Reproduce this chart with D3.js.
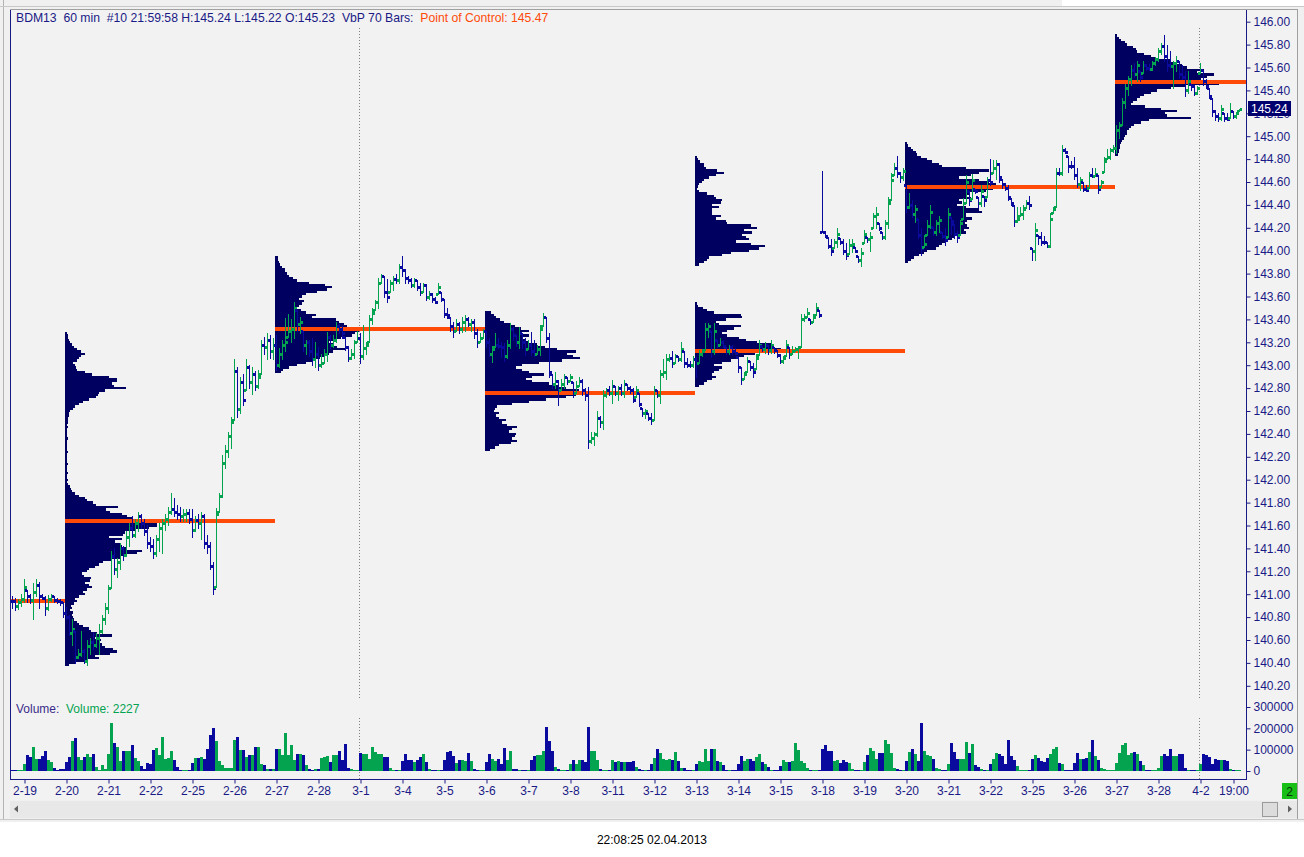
<!DOCTYPE html>
<html>
<head>
<meta charset="utf-8">
<script src="https://cdn.jsdelivr.net/npm/d3@7"></script>
<style>
  body { margin: 0; background: #fff; }
  svg text { font-family: "Liberation Sans", Arial, sans-serif; }
</style>
</head>
<body>
<svg id="chart" width="1304" height="857"></svg>
<script>
// 60 min bars, 4 bars of 2-18 then 14 bars per session (2-19 .. 4-2)
const highs = [
  140.98,140.97,140.96,141.00,
  141.13,141.04,141.00,141.10,141.13,141.11,141.00,140.98,140.99,141.00,140.98,140.97,140.96,140.93, // 2-19
  140.89,140.82,140.78,140.68,140.52,140.68,140.52,140.60,140.62,140.67,140.66,140.74,140.82,140.92, // 2-20
  141.08,141.38,141.40,141.32,141.45,141.42,141.55,141.62,141.68,141.66,141.72,141.70,141.66,141.60, // 2-21
  141.50,141.48,141.52,141.62,141.66,141.70,141.76,141.88,141.84,141.78,141.76,141.74,141.74,141.74, // 2-22
  141.74,141.68,141.70,141.72,141.70,141.52,141.46,141.28,141.75,141.88,142.22,142.30,142.42,142.55, // 2-25
  143.05,142.98,142.90,142.92,143.05,143.00,142.98,142.95,142.96,143.22,143.25,143.28,143.26,143.24, // 2-26
  143.26,143.15,143.22,143.41,143.45,143.40,143.55,143.48,143.42,143.30,143.22,143.22,143.24,143.20, // 2-27
  143.16,143.10,143.14,143.29,143.26,143.26,143.38,143.36,143.34,143.25,143.17,143.14,143.22,143.30, // 2-28
  143.28,143.35,143.20,143.44,143.50,143.57,143.76,143.80,143.78,143.75,143.74,143.78,143.80,143.88, // 3-1
  143.95,143.84,143.78,143.76,143.76,143.74,143.72,143.72,143.71,143.65,143.63,143.60,143.72,143.64, // 3-4
  143.58,143.50,143.42,143.38,143.40,143.38,143.42,143.44,143.42,143.40,143.40,143.32,143.28,143.32, // 3-5
  143.30,143.24,143.17,143.28,143.24,143.20,143.19,143.22,143.37,143.33,143.26,143.33,143.28,143.24, // 3-6
  143.22,143.29,143.22,143.18,143.35,143.46,143.42,143.28,142.92,142.94,142.87,142.88,142.92,142.90, // 3-7
  142.92,142.85,142.86,142.90,142.88,142.80,142.81,142.42,142.42,142.60,142.56,142.78,142.80,142.82, // 3-8
  142.87,142.82,142.82,142.84,142.87,142.84,142.82,142.80,142.82,142.76,142.63,142.62,142.58,142.58, // 3-11
  142.82,142.78,142.96,143.05,143.10,143.10,143.12,143.10,143.08,143.20,143.12,143.06,143.04,143.08, // 3-12
  143.07,143.13,143.14,143.37,143.37,143.30,143.37,143.22,143.24,143.22,143.16,143.18,143.18,143.15, // 3-13
  143.07,142.98,142.94,143.07,143.04,143.02,143.10,143.22,143.17,143.20,143.18,143.22,143.16,143.13, // 3-14
  143.10,143.08,143.22,143.16,143.17,143.16,143.17,143.45,143.45,143.50,143.40,143.45,143.54,143.48, // 3-15
  144.70,144.17,144.12,144.10,144.10,144.20,144.11,144.10,144.07,144.10,144.10,144.03,143.95,144.02, // 3-18
  144.18,144.12,144.16,144.33,144.38,144.24,144.16,144.27,144.47,144.68,144.77,144.83,144.69,144.72, // 3-19
  144.57,144.50,144.44,144.40,144.28,144.20,144.14,144.27,144.40,144.21,144.27,144.30,144.16,144.20, // 3-20
  144.37,144.29,144.23,144.17,144.27,144.46,144.66,144.52,144.67,144.54,144.47,144.57,144.48,144.64, // 3-21
  144.80,144.79,144.79,144.77,144.63,144.59,144.57,144.46,144.40,144.38,144.38,144.40,144.44,144.48, // 3-22
  144.02,144.24,144.14,144.16,144.13,144.08,144.33,144.38,144.72,144.72,144.92,144.90,144.83,144.78, // 3-25
  144.82,144.72,144.64,144.60,144.57,144.69,144.72,144.72,144.66,144.62,144.82,144.89,144.90,144.92, // 3-26
  145.10,145.12,145.33,145.46,145.53,145.62,145.64,145.66,145.57,145.66,145.63,145.63,145.66,145.69, // 3-27
  145.77,145.81,145.88,145.80,145.74,145.66,145.70,145.66,145.62,145.57,145.57,145.46,145.45,145.44, // 3-28
  145.64,145.58,145.50,145.42,145.33,145.23,145.20,145.27,145.20,145.20,145.29,145.22,145.21,145.24  // 4-2
];
const lows = [
  140.88,140.86,140.87,140.90,
  140.93,140.93,140.92,140.78,140.98,140.88,140.96,140.82,140.86,140.94,140.93,140.92,140.91,140.80,
  140.78,140.64,140.56,140.40,140.44,140.46,140.40,140.38,140.48,140.52,140.54,140.48,140.66,140.74,
  140.84,141.05,141.18,141.15,141.22,141.30,141.33,141.42,141.50,141.50,141.55,141.58,141.52,141.40,
  141.38,141.32,141.33,141.38,141.36,141.56,141.60,141.70,141.68,141.66,141.64,141.64,141.64,141.62,
  141.50,141.55,141.58,141.48,141.40,141.36,141.22,141.00,141.06,141.72,141.85,142.10,142.20,142.28,
  142.52,142.55,142.58,142.65,142.78,142.80,142.75,142.78,142.80,142.92,143.10,143.05,143.06,143.05,
  142.96,142.98,143.05,143.12,143.25,143.20,143.24,143.30,143.28,143.12,143.10,143.08,143.00,142.98,
  142.96,142.98,143.02,143.04,143.15,143.16,143.20,143.28,143.24,143.13,143.04,143.05,143.06,143.20,
  143.02,143.05,143.10,143.20,143.36,143.48,143.50,143.72,143.60,143.55,143.64,143.66,143.72,143.72,
  143.78,143.72,143.72,143.68,143.68,143.66,143.61,143.64,143.57,143.58,143.55,143.54,143.62,143.56,
  143.42,143.41,143.30,143.25,143.30,143.28,143.29,143.30,143.34,143.30,143.24,143.16,143.20,143.24,
  143.16,143.08,143.03,143.16,143.15,143.07,143.04,143.06,143.15,143.22,143.17,143.15,143.15,143.09,
  143.14,143.09,143.08,143.10,143.09,143.34,143.20,142.90,142.80,142.80,142.65,142.78,142.80,142.84,
  142.86,142.72,142.76,142.82,142.74,142.70,142.28,142.32,142.30,142.38,142.46,142.44,142.72,142.74,
  142.67,142.74,142.70,142.74,142.72,142.78,142.76,142.68,142.72,142.64,142.56,142.54,142.52,142.49,
  142.52,142.72,142.67,142.90,142.88,143.04,142.98,143.02,143.04,143.04,142.98,142.98,142.98,142.98,
  142.90,143.02,143.08,143.13,143.25,143.07,143.10,143.16,143.18,143.16,143.10,143.10,143.10,143.10,
  142.94,142.84,142.88,142.94,142.96,142.90,142.97,143.09,143.12,143.11,143.10,143.11,143.11,143.07,
  143.02,143.02,143.08,143.06,143.10,143.12,143.06,143.16,143.39,143.42,143.36,143.38,143.44,143.42,
  144.16,144.12,144.02,143.96,144.02,144.03,144.06,143.97,143.93,143.97,143.99,143.99,143.90,143.87,
  144.07,144.08,144.00,144.20,144.20,144.18,144.10,144.10,144.20,144.44,144.66,144.64,144.60,144.62,
  144.34,144.37,144.29,144.25,144.11,143.96,144.03,144.14,144.20,144.14,144.14,144.16,144.11,144.05,
  144.12,144.15,144.11,144.08,144.14,144.28,144.42,144.40,144.45,144.50,144.38,144.39,144.39,144.47,
  144.57,144.68,144.63,144.60,144.55,144.53,144.44,144.40,144.22,144.25,144.30,144.28,144.37,144.36,
  143.92,143.92,144.06,144.05,144.06,144.03,144.03,144.33,144.38,144.66,144.66,144.85,144.69,144.72,
  144.63,144.56,144.53,144.52,144.52,144.55,144.64,144.65,144.50,144.56,144.69,144.80,144.80,144.86,
  144.85,144.98,145.10,145.25,145.36,145.45,145.52,145.48,145.48,145.55,145.58,145.58,145.58,145.62,
  145.66,145.72,145.66,145.57,145.60,145.42,145.57,145.51,145.50,145.35,145.38,145.40,145.36,145.37,
  145.55,145.45,145.42,145.33,145.18,145.14,145.13,145.14,145.13,145.14,145.16,145.16,145.16,145.22
];
const closes = [
  140.94,140.90,140.93,140.96,
  141.06,140.98,140.95,141.02,141.08,140.98,140.97,140.88,140.96,140.98,140.95,140.94,140.93,140.84,
  140.80,140.66,140.70,140.45,140.48,140.50,140.42,140.55,140.58,140.56,140.62,140.68,140.78,140.88,
  141.05,141.33,141.22,141.28,141.40,141.34,141.50,141.58,141.52,141.62,141.68,141.62,141.55,141.45,
  141.42,141.36,141.48,141.58,141.62,141.66,141.72,141.74,141.72,141.70,141.68,141.70,141.71,141.66,
  141.56,141.65,141.62,141.68,141.45,141.42,141.25,141.05,141.70,141.86,142.15,142.25,142.38,142.50,
  142.95,142.62,142.85,142.70,142.98,142.85,142.92,142.82,142.90,143.18,143.16,143.22,143.12,143.18,
  143.00,143.10,143.18,143.20,143.30,143.32,143.50,143.36,143.38,143.18,143.20,143.12,143.05,143.10,
  143.00,143.02,143.10,143.25,143.18,143.22,143.34,143.32,143.28,143.16,143.06,143.10,143.20,143.24,
  143.08,143.15,143.18,143.40,143.46,143.55,143.72,143.78,143.64,143.60,143.72,143.75,143.74,143.86,
  143.83,143.76,143.74,143.70,143.74,143.68,143.64,143.70,143.60,143.62,143.58,143.55,143.68,143.58,
  143.45,143.44,143.34,143.30,143.36,143.32,143.38,143.40,143.36,143.38,143.28,143.20,143.24,143.30,
  143.20,143.10,143.14,143.18,143.17,143.16,143.08,143.18,143.32,143.26,143.20,143.28,143.20,143.14,
  143.18,143.12,143.10,143.14,143.32,143.42,143.24,142.94,142.84,142.86,142.78,142.84,142.90,142.86,
  142.90,142.76,142.82,142.86,142.78,142.74,142.34,142.36,142.40,142.54,142.50,142.74,142.78,142.76,
  142.82,142.76,142.80,142.76,142.84,142.80,142.78,142.70,142.78,142.66,142.58,142.60,142.54,142.52,
  142.78,142.74,142.92,142.94,143.05,143.06,143.02,143.08,143.05,143.14,143.02,143.00,143.00,143.05,
  143.02,143.10,143.12,143.32,143.34,143.12,143.30,143.18,143.20,143.17,143.12,143.16,143.12,143.11,
  142.98,142.88,142.92,143.04,142.98,142.94,143.06,143.18,143.14,143.18,143.13,143.18,143.13,143.09,
  143.04,143.06,143.18,143.10,143.12,143.14,143.16,143.40,143.42,143.46,143.38,143.42,143.50,143.44,
  144.16,144.13,144.04,144.00,144.08,144.15,144.08,144.00,143.96,144.05,144.06,144.00,143.92,143.98,
  144.15,144.10,144.12,144.30,144.32,144.20,144.12,144.24,144.42,144.62,144.72,144.68,144.64,144.70,
  144.38,144.40,144.32,144.36,144.14,144.02,144.06,144.22,144.34,144.16,144.24,144.27,144.13,144.09,
  144.32,144.26,144.15,144.12,144.24,144.42,144.60,144.44,144.62,144.52,144.42,144.52,144.44,144.62,
  144.60,144.72,144.76,144.64,144.58,144.55,144.47,144.42,144.26,144.28,144.32,144.36,144.42,144.40,
  144.00,144.18,144.12,144.08,144.08,144.04,144.28,144.36,144.68,144.68,144.88,144.86,144.74,144.74,
  144.66,144.58,144.62,144.54,144.53,144.66,144.65,144.67,144.54,144.60,144.78,144.82,144.88,144.90,
  145.05,145.10,145.30,145.42,145.50,145.58,145.54,145.62,145.52,145.62,145.60,145.59,145.64,145.67,
  145.74,145.79,145.70,145.62,145.61,145.64,145.66,145.54,145.52,145.40,145.48,145.44,145.38,145.42,
  145.58,145.48,145.44,145.35,145.22,145.18,145.16,145.24,145.16,145.15,145.22,145.18,145.20,145.24
];
// volume per bar, thousands of contracts
const volumesK = [
  3,2,3,4,
  33,75,66,113,56,55,70,94,52,40,16,6,8,8,
  42,66,142,155,66,51,66,80,66,80,20,6,28,10,
  80,226,131,113,45,93,93,93,122,63,47,23,8,36,
  35,100,108,73,160,58,61,96,50,19,6,3,3,6,
  38,63,63,66,58,105,167,200,141,47,27,16,13,16,
  147,160,100,100,66,73,73,113,113,31,27,11,11,11,
  105,105,73,180,73,120,50,81,81,73,27,11,6,11,
  11,63,66,69,42,73,73,92,50,125,14,11,6,3,
  86,81,81,58,114,89,81,81,66,66,16,6,3,3,
  47,78,53,53,42,53,66,78,42,11,3,3,3,3,
  50,89,94,69,38,50,50,47,84,45,11,3,3,3,
  42,81,58,47,58,35,108,53,92,11,11,3,3,3,
  3,53,69,73,73,92,206,141,95,19,11,6,3,3,
  31,50,35,53,50,42,206,95,92,50,11,3,3,3,
  50,42,47,42,42,42,42,47,20,11,6,3,6,34,
  60,101,83,56,52,55,52,89,47,13,13,3,3,3,
  34,47,44,101,47,101,101,47,42,27,3,3,3,3,
  34,69,47,58,58,47,66,81,42,31,19,6,3,3,
  22,50,42,42,45,131,97,47,38,16,6,3,3,3,
  101,121,92,92,47,50,38,50,42,38,9,6,6,3,
  42,73,108,95,58,84,84,144,128,84,14,9,3,3,
  47,87,105,81,47,227,92,73,70,55,16,11,3,3,
  31,131,89,58,58,58,136,84,128,27,19,11,3,3,
  34,58,84,78,69,34,144,69,50,22,3,3,3,3,
  58,73,61,47,42,61,81,105,112,38,34,6,3,3,
  38,84,58,58,63,89,144,69,50,16,9,3,3,3,
  38,84,124,131,73,84,89,81,47,27,6,3,3,3,
  16,69,78,70,101,70,70,78,78,16,6,3,3,3,
  34,78,73,66,31,58,53,50,50,47,11,6,3,2.227
];

// volume-by-price profiles, 70 bars each, rows of 0.02 from the base price (k contracts)
const profileStart = [18, 88, 158, 228, 298, 368];
const profileBase = [140.38, 142.94, 142.26, 142.82, 143.90, 144.84];
const profile1 = [4,10,22,34,30,45,52,48,40,37,35,36,30,47,32,26,24,18,14,12,9,8,7,8,5,7,6,9,12,10,
  14,20,18,22,27,24,20,25,26,19,17,22,24,30,34,38,47,55,60,72,77,62,57,55,50,57,44,58,60,70,
  84,92,92,100,67,62,57,45,41,53,31,28,22,20,14,10,7,6,5,3,
  2,3,2,2,3,2,2,2,3,2,2,2,2,3,2,2,2,2,2,3,2,2,2,2,3,2,3,3,3,4,4,
  5,8,10,14,18,24,31,33,34,40,61,49,47,52,52,44,27,20,12,11,10,8,12,14,16,20,16,12,9,7,5,4,3,3,2];
const profile2 = [6,8,14,22,31,37,45,49,54,58,71,62,59,54,58,66,77,80,84,88,72,69,64,61,37,41,31,26,21,24,
  27,29,24,27,31,42,52,57,50,34,22,18,14,12,10,10,7,5,4,3,3];
const profile3 = [5,10,14,26,32,27,30,31,24,27,32,22,17,21,14,11,14,9,10,12,27,44,61,81,91,100,94,81,74,64,
  47,41,47,59,44,37,31,37,54,77,95,88,82,91,72,60,52,44,40,37,44,36,44,36,30,25,19,15,11,9,6];
const profile4 = [4,9,12,17,21,17,19,24,27,19,27,36,41,49,60,94,86,77,76,62,51,44,32,27,32,39,46,24,21,31,
  47,46,19,12,8,3,2,
  0,0,0,0,0,0,0,0,0,0,0,0,0,0,0,0,
  4,9,12,14,27,36,54,64,70,56,41,54,51,47,57,49,62,56,32,31,21,26,17,17,17,24,17,26,27,21,
  19,12,4,2,3,4,7,9,14,21,29,22,11,9,9,5,3,2];
const profile5 = [3,6,9,14,19,22,31,34,37,41,47,49,55,61,59,64,62,60,62,67,61,61,77,74,61,52,57,54,66,61,
  64,81,88,96,91,84,74,54,66,74,84,61,37,34,27,22,16,12,11,8,6,3,2];
const profile6 = [3,4,4,5,5,6,7,9,10,12,12,14,16,19,26,34,76,52,50,62,46,30,16,18,22,25,29,36,42,56,
  70,104,102,86,92,99,82,89,72,67,61,56,41,36,29,22,21,18,12,10,6,4,2];
const profiles = [profile1, profile2, profile3, profile4, profile5, profile6];

// point of control per period (first one belongs to the period before 2-20)
const pocStart = [-2, 18, 88, 158, 228, 298, 368];
const pocEnd = [17, 87, 157, 227, 297, 367, 420];
const pocPrice = [140.94, 141.64, 143.32, 142.76, 143.12, 144.56, 145.47];

const priceTicks = [146.0,145.8,145.6,145.4,145.2,145.0,144.8,144.6,144.4,144.2,144.0,143.8,143.6,143.4,143.2,
  143.0,142.8,142.6,142.4,142.2,142.0,141.8,141.6,141.4,141.2,141.0,140.8,140.6,140.4,140.2];
const volumeTicks = [0, 100000, 200000, 300000];
const dateTickIdx = [4,18,32,46,60,74,88,102,116,130,144,158,172,186,200,214,228,242,256,270,284,298,312,326,340,354,368,382,396,407];
const dateLabels = ["2-19","2-20","2-21","2-22","2-25","2-26","2-27","2-28","3-1","3-4","3-5","3-6","3-7","3-8",
  "3-11","3-12","3-13","3-14","3-15","3-18","3-19","3-20","3-21","3-22","3-25","3-26","3-27","3-28","4-2","19:00"];
const monthStartIdx = [116, 396];

const navy = "#1a1a86";
const barBlue = "#0a0a9e";
const barGreen = "#03a350";
const profColor = "#000060";
const pocColor = "#ff4a08";

const svg = d3.select("#chart");

// window / panel backgrounds
svg.append("rect").attr("width", 1304).attr("height", 822).attr("fill", "#f0f0f0");
svg.append("rect").attr("y", 822).attr("width", 1304).attr("height", 35).attr("fill", "#ffffff");
svg.append("rect").attr("x", 1062).attr("y", 0).attr("width", 242).attr("height", 6).attr("fill", "#ffffff");
svg.append("rect").attr("x", 10).attr("y", 10).attr("width", 1287).attr("height", 790).attr("fill", "#f2f2f2");
svg.append("line").attr("x1", 3.5).attr("x2", 3.5).attr("y1", 0).attr("y2", 820).attr("stroke", "#b4b4b4");
svg.append("line").attr("x1", 0).attr("x2", 1304).attr("y1", 6.5).attr("y2", 6.5).attr("stroke", "#c8c8c8");
svg.append("line").attr("x1", 10).attr("x2", 1297).attr("y1", 9.5).attr("y2", 9.5).attr("stroke", "#a0a0a0");
svg.append("line").attr("x1", 1297.5).attr("x2", 1297.5).attr("y1", 9).attr("y2", 820).attr("stroke", "#a0a0a0");
svg.append("line").attr("x1", 0).attr("x2", 1304).attr("y1", 819.5).attr("y2", 819.5).attr("stroke", "#c8c8c8");

const x = d3.scaleLinear().domain([0, closes.length - 1]).range([12, 12 + 3 * (closes.length - 1)]);
const yPrice = d3.scaleLinear().domain([140.2, 146.0]).range([685.8, 21.7]);
const yVol = d3.scaleLinear().domain([0, 300000]).range([771, 707]);
const profW = d3.scaleLinear().domain([0, 100]).range([0, 100]);

svg.append("clipPath").attr("id", "pricePane")
  .append("rect").attr("x", 10).attr("y", 10).attr("width", 1236).attr("height", 692);
const pane = svg.append("g").attr("clip-path", "url(#pricePane)");

// month separators
monthStartIdx.forEach(i => {
  const xx = Math.round(x(i)) - 0.5;
  pane.append("line").attr("x1", xx).attr("x2", xx).attr("y1", 28).attr("y2", 700)
    .attr("stroke", "#808080").attr("stroke-dasharray", "1,2");
  svg.append("line").attr("x1", xx).attr("x2", xx).attr("y1", 718).attr("y2", 779)
    .attr("stroke", "#808080").attr("stroke-dasharray", "1,2");
});

// profiles
profiles.forEach((vols, k) => {
  const left = Math.round(x(profileStart[k])) - 1;
  pane.append("g").selectAll("rect")
    .data(vols.map((v, j) => ({ p: profileBase[k] + 0.02 * j, v })).filter(d => d.v > 0))
    .join("rect")
    .attr("x", left)
    .attr("y", d => yPrice(d.p + 0.01))
    .attr("width", d => profW(d.v))
    .attr("height", d => yPrice(d.p - 0.01) - yPrice(d.p + 0.01))
    .attr("fill", profColor)
    .attr("shape-rendering", "crispEdges");
});

// point of control lines
pane.append("g").selectAll("line")
  .data(pocPrice)
  .join("line")
  .attr("x1", (d, k) => x(pocStart[k]) - 1)
  .attr("x2", (d, k) => x(pocEnd[k]) + 2)
  .attr("y1", d => Math.round(yPrice(d)))
  .attr("y2", d => Math.round(yPrice(d)))
  .attr("stroke", pocColor)
  .attr("stroke-width", 4);

// OHLC bars
const bars = closes.map((c, i) => {
  const prev = i > 0 ? closes[i - 1] : c;
  const o = Math.min(highs[i], Math.max(lows[i], prev));
  return { i, h: highs[i], l: lows[i], o, c, up: c > o, v: volumesK[i] * 1000 };
});
const gBars = pane.append("g").attr("shape-rendering", "crispEdges");
const bar = gBars.selectAll("g").data(bars).join("g")
  .attr("fill", d => d.up ? barGreen : barBlue);
bar.append("rect")
  .attr("x", d => Math.round(x(d.i)))
  .attr("y", d => Math.round(yPrice(d.h)))
  .attr("width", 1)
  .attr("height", d => Math.max(1, Math.round(yPrice(d.l)) - Math.round(yPrice(d.h)) + 1));
bar.append("rect")
  .attr("x", d => Math.round(x(d.i)) - 2)
  .attr("y", d => Math.round(yPrice(d.o)) - 1)
  .attr("width", 2).attr("height", 3);
bar.append("rect")
  .attr("x", d => Math.round(x(d.i)) + 1)
  .attr("y", d => Math.round(yPrice(d.c)) - 1)
  .attr("width", 2).attr("height", 3);

// volume bars
svg.append("g").attr("shape-rendering", "crispEdges")
  .selectAll("rect").data(bars).join("rect")
  .attr("x", d => Math.round(x(d.i)) - 1)
  .attr("y", d => Math.min(770, Math.round(yVol(d.v))))
  .attr("width", 3)
  .attr("height", d => Math.max(1, 771 - Math.min(770, Math.round(yVol(d.v)))))
  .attr("fill", d => d.up ? barGreen : barBlue);

// frame lines
svg.append("line").attr("x1", 10.5).attr("x2", 10.5).attr("y1", 10).attr("y2", 780).attr("stroke", navy);
svg.append("line").attr("x1", 1246.5).attr("x2", 1246.5).attr("y1", 10).attr("y2", 780).attr("stroke", navy);
svg.append("line").attr("x1", 10).attr("x2", 1247).attr("y1", 779.5).attr("y2", 779.5).attr("stroke", navy);

// right price axis
const gp = svg.append("g").attr("transform", "translate(1246.5,0)")
  .call(d3.axisRight(yPrice).tickValues(priceTicks).tickFormat(d3.format(".2f")).tickSize(4).tickPadding(3));
gp.select(".domain").remove();
gp.attr("font-size", 12).attr("font-family", "Liberation Sans, Arial, sans-serif");
gp.selectAll("line").attr("stroke", navy);
gp.selectAll("text").attr("fill", navy);

// right volume axis
const gv = svg.append("g").attr("transform", "translate(1246.5,0)")
  .call(d3.axisRight(yVol).tickValues(volumeTicks).tickFormat(d3.format("d")).tickSize(4).tickPadding(3));
gv.select(".domain").remove();
gv.attr("font-size", 12).attr("font-family", "Liberation Sans, Arial, sans-serif");
gv.selectAll("line").attr("stroke", navy);
gv.selectAll("text").attr("fill", navy);

// last price marker (covers the 145.20 label as in the original)
const last = closes[closes.length - 1];
svg.append("rect").attr("x", 1248).attr("y", Math.round(yPrice(last)) - 8)
  .attr("width", 43).attr("height", 15).attr("fill", "#00006e");
svg.append("text").attr("x", 1251).attr("y", Math.round(yPrice(last)) + 4)
  .attr("font-size", 12).attr("fill", "#ffffff").text(d3.format(".2f")(last));

// bottom date axis
const labelByIdx = new Map(dateTickIdx.map((d, k) => [d, dateLabels[k]]));
const gx = svg.append("g").attr("transform", "translate(0.5,779.5)")
  .call(d3.axisBottom(x).tickValues(dateTickIdx).tickFormat(d => labelByIdx.get(d)).tickSize(4).tickPadding(3));
gx.select(".domain").remove();
gx.attr("font-size", 12).attr("font-family", "Liberation Sans, Arial, sans-serif");
gx.selectAll("line").attr("stroke", navy);
gx.selectAll("text").attr("fill", navy);

// header legend
const header = svg.append("text").attr("x", 16).attr("y", 22).attr("font-size", 12.2).style("white-space", "pre");
header.append("tspan").attr("fill", navy)
  .text("BDM13  60 min  #10 21:59:58 H:145.24 L:145.22 O:145.23  VbP 70 Bars:  ");
header.append("tspan").attr("fill", pocColor).text("Point of Control: 145.47");

// volume legend
const vleg = svg.append("text").attr("x", 16).attr("y", 713).attr("font-size", 12).style("white-space", "pre");
vleg.append("tspan").attr("fill", "#3a2a8a").text("Volume:  ");
vleg.append("tspan").attr("fill", barGreen).text("Volume: 2227");

// green counter box
svg.append("rect").attr("x", 1282).attr("y", 783).attr("width", 15).attr("height", 16).attr("fill", "#17bf17");
svg.append("text").attr("x", 1289.5).attr("y", 796).attr("text-anchor", "middle")
  .attr("font-size", 12).attr("fill", "#0b2e0b").text("2");

// scrollbar
svg.append("rect").attr("x", 10).attr("y", 801).attr("width", 1287).attr("height", 17).attr("fill", "#e8e8e8");
svg.append("path").attr("d", "M14,809 L18,805.5 L18,812.5 Z").attr("fill", "#606060");
svg.append("rect").attr("x", 1262.5).attr("y", 802.5).attr("width", 15).attr("height", 14)
  .attr("fill", "#dcdcdc").attr("stroke", "#9a9a9a");
svg.append("path").attr("d", "M1292,809 L1288,805.5 L1288,812.5 Z").attr("fill", "#606060");

// capture time
svg.append("text").attr("x", 652).attr("y", 844).attr("text-anchor", "middle")
  .attr("font-size", 12).attr("fill", "#000").text("22:08:25 02.04.2013");
</script>
</body>
</html>
